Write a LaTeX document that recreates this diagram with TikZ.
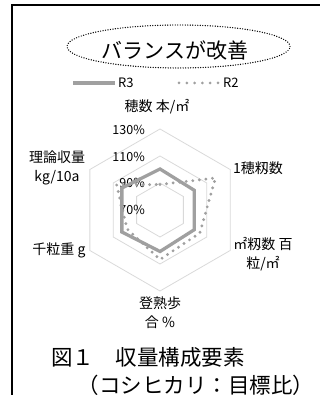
\documentclass[tikz,border=0pt]{standalone}
\usepackage{fontspec}
\setmainfont{Noto Sans CJK JP}
\usetikzlibrary{shapes.geometric}
\definecolor{gridcol}{RGB}{217,217,217}
\definecolor{seriescol}{RGB}{160,160,160}
\tikzset{
  gridhex/.style={draw=gridcol, line width=0.8pt},
  rthree/.style={draw=seriescol, line width=3.3pt, line join=miter},
  rtwo/.style={draw=seriescol, line width=3.2pt, line cap=round, dash pattern=on 0pt off 6.6pt},
  axlabel/.style={font=\fontsize{14}{19}\selectfont, align=center, inner sep=0pt},
  pctlabel/.style={font=\fontsize{12.5}{14}\selectfont, anchor=east, inner sep=0pt},
  legendtxt/.style={font=\fontsize{13}{14}\selectfont, anchor=west, inner sep=0pt},
  titletxt/.style={font=\fontsize{21.5}{24}\selectfont, inner sep=0pt}
}
\begin{document}
\begin{tikzpicture}[x=1pt,y=1pt]
\useasboundingbox (0,0) rectangle (320,403);
% frame
\coordinate (fa) at (12,8);
\coordinate (fb) at (12,398);
\coordinate (fc) at (320,398);
\draw[line width=1.1pt] (fa) -- (fb) -- (fc);
% headline ellipse
\node[ellipse, draw, line width=1.4pt, line cap=round, dash pattern=on 0pt off 2.5pt,
      minimum width=223pt, minimum height=43pt, inner sep=0pt] (oval) at (178.5,356.5) {};
\node[font=\fontsize{21}{24}\selectfont, inner sep=0pt] (head) at (175,352) {バランスが改善};
% legend
\coordinate (l3a) at (73,320);
\coordinate (l3b) at (115,320);
\draw[draw=seriescol, line width=4pt] (l3a) -- (l3b);
\node[legendtxt] (l3) at (118,320) {R3};
\coordinate (l2a) at (179,320);
\coordinate (l2b) at (218,320);
\draw[draw=seriescol, line width=3pt, line cap=round, dash pattern=on 0pt off 7.8pt] (l2a) -- (l2b);
\node[legendtxt] (l2) at (223,320) {R2};
% radar grid
\coordinate (C) at (160,193);
\foreach \r in {27,54,81}{
  \draw[gridhex, shift={(C)}] (90:\r pt) -- (30:\r pt) -- (-30:\r pt) -- (-90:\r pt) -- (210:\r pt) -- (150:\r pt) -- cycle;
}
% percent labels
\node[pctlabel] (p130) at (145,273) {130\%};
\node[pctlabel] (p110) at (145,246) {110\%};
\node[pctlabel] (p90) at (145,220) {90\%};
\node[pctlabel] (p70) at (145,193) {70\%};
% series R2 (dotted)
\draw[rtwo, shift={(C)}] (90:25.5pt) -- (30:64pt) -- (-30:46pt) -- (-90:49.5pt) -- (210:38pt) -- (150:50pt) -- cycle;
% series R3 (solid)
\draw[rthree, shift={(C)}] (90:41pt) -- (30:39.5pt) -- (-30:39.5pt) -- (-90:41.5pt) -- (210:44pt) -- (150:44pt) -- cycle;
% axis labels
\node[axlabel] (ax1) at (157,296) {穂数 本/㎡};
\node[axlabel, anchor=west] (ax2) at (233,235) {1穂籾数};
\node[axlabel] (ax3) at (263,149) {㎡籾数 百\\粒/㎡};
\node[axlabel] (ax4) at (160,90) {登熟歩\\合 \%};
\node[axlabel] (ax5) at (59,153) {千粒重 g};
\node[axlabel] (ax6) at (57,235) {理論収量\\kg/10a};
% caption
\node[titletxt, anchor=west] (cap1) at (51,46) {図１　収量構成要素};
\node[titletxt] (cap2) at (196,18) {（コシヒカリ：目標比）};
\end{tikzpicture}
\end{document}
